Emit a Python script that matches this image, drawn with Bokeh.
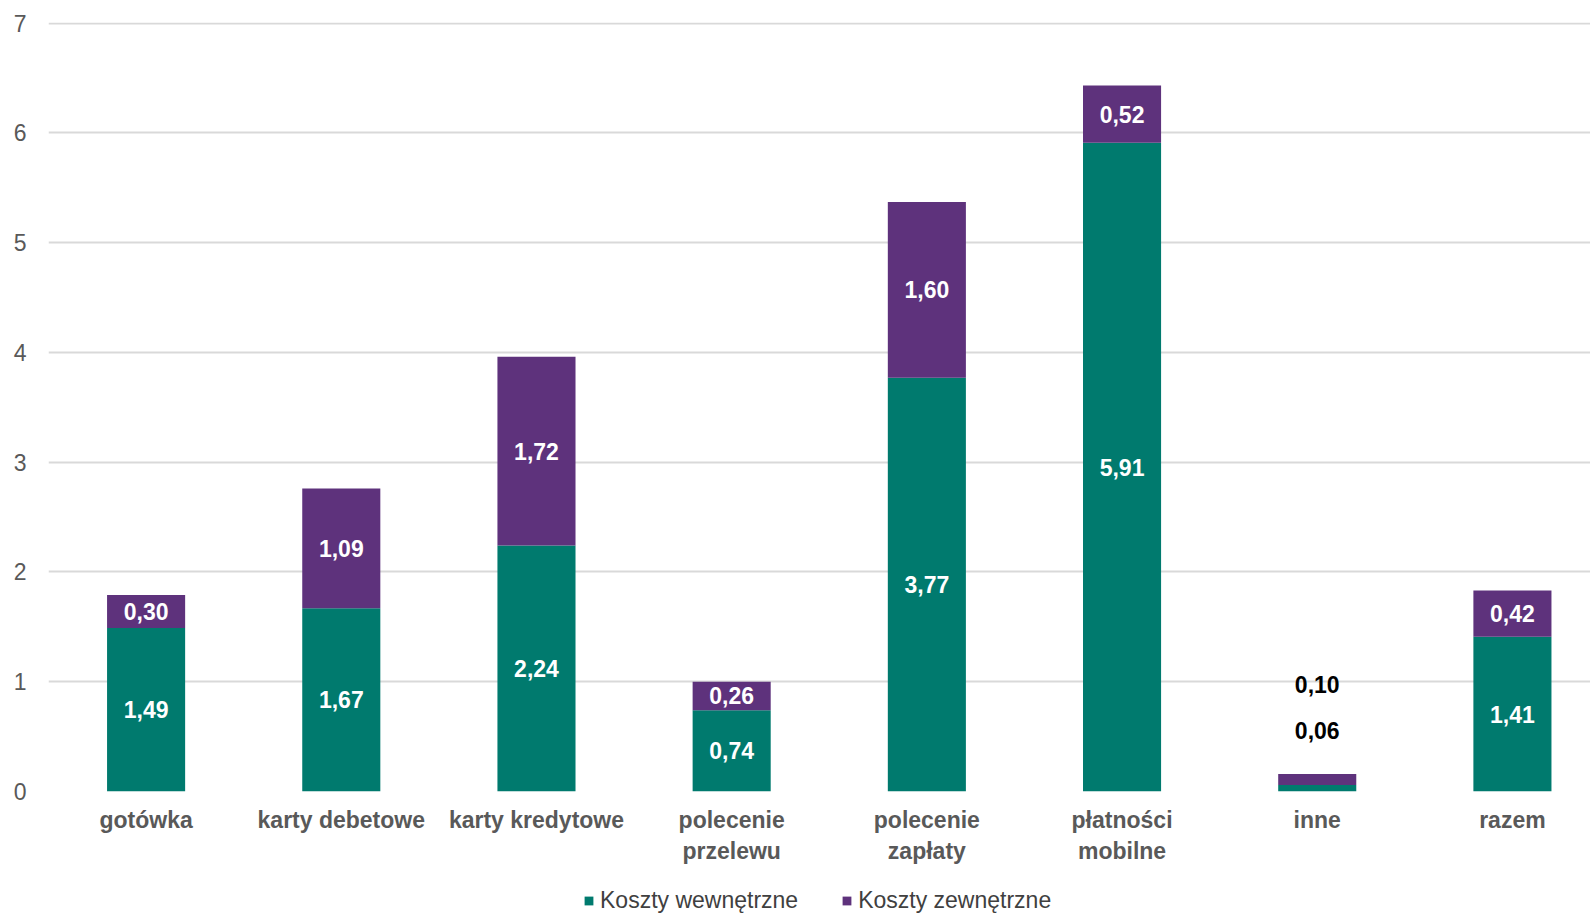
from bokeh.plotting import figure
from bokeh.layouts import column
from bokeh.models import Range1d, FixedTicker, ColumnDataSource, Legend, LegendItem
from bokeh.embed import file_html
from bokeh.resources import INLINE
from bokeh.core.properties import value

categories = ["gotówka", "karty debetowe", "karty kredytowe", "polecenie\nprzelewu",
              "polecenie\nzapłaty", "płatności\nmobilne", "inne", "razem"]
koszty_wewnetrzne = [1.49, 1.67, 2.24, 0.74, 3.77, 5.91, 0.06, 1.41]
koszty_zewnetrzne = [0.30, 1.09, 1.72, 0.26, 1.60, 0.52, 0.10, 0.42]
y_ticks = [0, 1, 2, 3, 4, 5, 6, 7]
series_names = ["Koszty wewnętrzne", "Koszty zewnętrzne"]

TEAL = "#007A6E"
PURPLE = "#5E327C"
FONT = "Liberation Sans"
GREY = "#595959"

xs = [i + 0.5 for i in range(len(categories))]
totals = [a + b for a, b in zip(koszty_wewnetrzne, koszty_zewnetrzne)]

p = figure(width=1590, height=875, output_backend="svg", toolbar_location=None,
           x_range=Range1d(0, 7.9), y_range=Range1d(0, 7.005),
           min_border_left=48, min_border_right=0, min_border_top=22, min_border_bottom=84)
p.outline_line_color = None
p.background_fill_color = "white"

src = ColumnDataSource(dict(x=xs, w=koszty_wewnetrzne, z=koszty_zewnetrzne, t=totals))
p.vbar(x="x", bottom=0, top="w", width=0.4, source=src, fill_color=TEAL, line_color=None)
p.vbar(x="x", bottom="w", top="t", width=0.4, source=src, fill_color=PURPLE, line_color=None)

# value labels
lx, ly, lt, lc, loff = [], [], [], [], []
def fmt(v):
    return f"{v:.2f}".replace(".", ",")
for x, w, z, t in zip(xs, koszty_wewnetrzne, koszty_zewnetrzne, totals):
    if w < 0.2 or z < 0.2:
        lx += [x, x]; ly += [t, t]; lt += [fmt(w), fmt(z)]
        lc += ["black", "black"]; loff += [-43, -89]
    else:
        lx += [x, x]; ly += [w / 2, w + z / 2]; lt += [fmt(w), fmt(z)]
        lc += ["white", "white"]; loff += [0, 0]
lsrc = ColumnDataSource(dict(x=lx, y=ly, text=lt, c=lc, off=loff))
p.text(x="x", y="y", text="text", source=lsrc, text_color="c", y_offset="off",
       text_align="center", text_baseline="middle", text_font=value(FONT),
       text_font_style="bold", text_font_size="23px")

# axes
p.xgrid.grid_line_color = None
p.ygrid.grid_line_color = "#d9d9d9"
p.ygrid.grid_line_width = 2
p.yaxis.ticker = FixedTicker(ticks=y_ticks)
p.xaxis.ticker = FixedTicker(ticks=xs)
p.xaxis.major_label_overrides = {x: c for x, c in zip(xs, categories)}
for ax in (p.xaxis, p.yaxis):
    ax.axis_line_color = None
    ax.major_tick_line_color = None
    ax.minor_tick_line_color = None
    ax.major_label_text_font = FONT
    ax.major_label_text_font_size = "23px"
    ax.major_label_text_color = GREY
p.xaxis.major_label_text_font_style = "bold"
p.xaxis.major_label_standoff = 9
p.yaxis.major_label_standoff = 16

# legend in its own strip below the chart (swatch renderers have zero height)
lf = figure(width=1590, height=38, output_backend="svg", toolbar_location=None,
            x_range=Range1d(0, 1), y_range=Range1d(0, 1),
            min_border_left=0, min_border_right=0, min_border_top=0, min_border_bottom=0)
lf.axis.visible = False
lf.grid.visible = False
lf.outline_line_color = None
sw = ColumnDataSource(dict(x=[0.5], top=[0.5], bottom=[0.5]))
g1 = lf.vbar(x="x", top="top", bottom="bottom", width=0.01, source=sw, fill_color=TEAL, line_color=None)
g2 = lf.vbar(x="x", top="top", bottom="bottom", width=0.01, source=sw, fill_color=PURPLE, line_color=None)
legend = Legend(items=[LegendItem(label=series_names[0], renderers=[g1]),
                       LegendItem(label=series_names[1], renderers=[g2])],
                orientation="horizontal", location=(535, -1),
                glyph_width=11, glyph_height=11, spacing=43, label_standoff=6,
                padding=0, margin=0, border_line_color=None, background_fill_alpha=0,
                label_text_font=FONT, label_text_font_size="23px", label_text_color="#404040")
lf.add_layout(legend)

open("out.html", "w").write(file_html(column(p, lf, spacing=0), INLINE))
